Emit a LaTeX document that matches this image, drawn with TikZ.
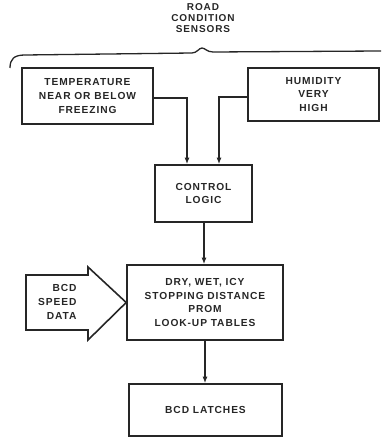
\documentclass[tikz,border=0pt]{standalone}
\usepackage{fontspec}
\newfontfamily\diagfont{Liberation Sans}[LetterSpace=9]
\usepackage{tikz}
\usetikzlibrary{arrows.meta,positioning,calc}

\begin{document}
\begin{tikzpicture}[x=1pt,y=-1pt,>={Latex[length=6.5pt,width=5pt]},
  font=\diagfont\bfseries\fontsize{10.2}{13.6}\selectfont,color=black!85]
\tikzstyle{block}=[draw,line width=1.6pt,align=center,inner sep=0pt]
\tikzstyle{flow}=[->,line width=1.4pt]
\useasboundingbox (0,0) rectangle (381,438);
% sensors
\node[align=center,font=\diagfont\bfseries\fontsize{10}{11}\selectfont] (title) at (203,18) {ROAD\\CONDITION\\SENSORS};
\draw[line width=1.3pt] (10,68) .. controls (10,59) and (14,55) .. (25,55) -- (192,53)
  .. controls (197,53) and (199,48) .. (202,48) .. controls (205,48) and (207,52) .. (213,52) -- (381,51);
\node[block,minimum width=131pt,minimum height=56pt] (temp) at (87.5,96) {TEMPERATURE\\NEAR OR BELOW\\FREEZING};
\node[block,minimum width=131pt,minimum height=53pt] (humid) at (313.5,94.5) {HUMIDITY\\VERY\\HIGH};
% logic and tables
\node[block,minimum width=97pt,minimum height=57pt] (ctrl) at (203.5,193.5) {CONTROL\\LOGIC};
\node[block,minimum width=156pt,minimum height=75pt] (table) at (205,302.5) {DRY, WET, ICY\\STOPPING DISTANCE\\PROM\\LOOK-UP TABLES};
\node[block,minimum width=153pt,minimum height=52pt] (latch) at (205.5,410) {BCD LATCHES};
% speed input
\draw[line width=1.6pt,line join=miter] (26,275) -- (88,275) -- (88,267) -- (table.west) -- (88,340) -- (88,330) -- (26,330) -- cycle;
\node[align=right,anchor=east] (speed) at (80,302) {BCD\\SPEED\\DATA};
\draw[flow] ([yshift=-2pt]temp.east) -| ([xshift=-16.5pt]ctrl.north);
\draw[flow] ([yshift=-2.5pt]humid.west) -| ([xshift=15.5pt]ctrl.north);
\draw[flow] ([xshift=0.5pt]ctrl.south) -- ([xshift=0.5pt]ctrl.south |- table.north);
\draw[flow] (table) -- (table.south |- latch.north);
\end{tikzpicture}
\end{document}
